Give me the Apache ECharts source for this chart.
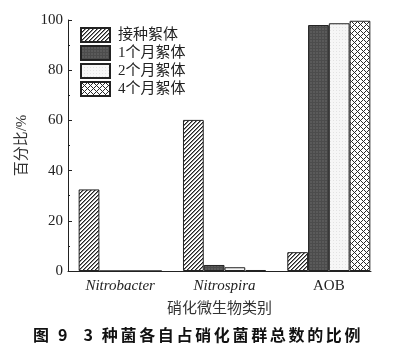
<!DOCTYPE html>
<html>
<head>
<meta charset="utf-8">
<script src="https://cdn.jsdelivr.net/npm/echarts@6/dist/echarts.min.js"></script>
<style>html,body{margin:0;padding:0;background:#fff}#c{width:407px;height:357px}</style>
</head>
<body>
<div id="c"></div>
<script>
const categories = ['Nitrobacter', 'Nitrospira', 'AOB'];
const italicCats = ['Nitrobacter', 'Nitrospira'];
const seriesNames = ['接种絮体', '1个月絮体', '2个月絮体', '4个月絮体'];
const inoculum = [32.5, 60.2, 7.5];
const month1 = [0, 2.4, 98.0];
const month2 = [0, 1.5, 98.7];
const month4 = [0, 0.4, 99.7];
const yTicks = [0, 20, 40, 60, 80, 100];
const xName = '硝化微生物类别';
const yName = '百分比/%';
const titleHead = '图 9';
const titleBody = '3 种菌各自占硝化菌群总数的比例';

function tile(size, bg, fn) {
  const c = document.createElement('canvas');
  c.width = size; c.height = size;
  const g = c.getContext('2d');
  g.fillStyle = bg; g.fillRect(0, 0, size, size);
  for (let x = 0; x < size; x++) for (let y = 0; y < size; y++) {
    const col = fn(x, y);
    if (col) { g.fillStyle = col; g.fillRect(x, y, 1, 1); }
  }
  return c;
}
const hatch = tile(4, '#ffffff', (x, y) => (x + y) % 4 === 0 ? '#222' : ((x + y) % 4 === 1 ? '#888' : null));
const cross = tile(6, '#ffffff', (x, y) => ((x + y) % 6 === 0 || (x - y + 6) % 6 === 0) ? '#2a2a2a' : null);
const dark = tile(3, '#5a5a5a', (x, y) => (x === 0 || y === 0) ? '#4c4c4c' : null);
const light = tile(3, '#f6f6f6', (x, y) => (x === 0 && y === 0) ? '#e2e2e2' : null);

const fills = [
  {image: hatch, repeat: 'repeat'},
  {image: dark, repeat: 'repeat'},
  {image: light, repeat: 'repeat'},
  {image: cross, repeat: 'repeat'}
];
const datas = [inoculum, month1, month2, month4];
const serif = "'Liberation Serif','Noto Sans CJK SC'";
const spaced = s => s.split('').join('\u2006');

const chart = echarts.init(document.getElementById('c'), null, {renderer: 'canvas'});
chart.setOption({
  animation: false,
  backgroundColor: '#fff',
  title: {
    text: spaced(titleHead) + '\u2003' + spaced(titleBody),
    left: 33, top: 327, padding: 0,
    textStyle: {fontSize: 16, fontWeight: 'bold', color: '#111', fontFamily: "'Noto Sans CJK SC'"}
  },
  legend: {
    orient: 'vertical', left: 80, top: 27, padding: 0,
    itemWidth: 29, itemHeight: 14, itemGap: 2, icon: 'rect',
    data: seriesNames,
    textStyle: {fontSize: 15, color: '#222', fontFamily: serif, lineHeight: 14, padding: [0, 0, 0, 3]}
  },
  grid: [
    {left: 68, width: 313, top: 20, bottom: 86},
    {left: 68, width: 303, top: 20, bottom: 86}
  ],
  xAxis: [
    {
      type: 'category', gridIndex: 0, data: categories,
      axisLine: {show: false}, axisTick: {show: false},
      axisLabel: {
        margin: 8,
        formatter: v => italicCats.includes(v) ? '{i|' + v + '}' : '{n|' + v + '}',
        rich: {
          i: {fontSize: 15, fontStyle: 'italic', fontFamily: serif, color: '#222'},
          n: {fontSize: 15, fontFamily: serif, color: '#222'}
        }
      }
    },
    {
      type: 'value', gridIndex: 1, min: 0, max: 1,
      axisLine: {show: true, lineStyle: {color: '#222', width: 1}},
      axisTick: {show: false}, axisLabel: {show: false}, splitLine: {show: false},
      name: xName, nameLocation: 'middle', nameGap: 31,
      nameTextStyle: {fontSize: 15, color: '#333', fontFamily: serif}
    }
  ],
  yAxis: [
    {
      type: 'value', gridIndex: 0, min: yTicks[0], max: yTicks[yTicks.length - 1], interval: 20,
      axisLine: {show: true, lineStyle: {color: '#222', width: 1}},
      axisTick: {show: true, inside: true, length: 4, lineStyle: {color: '#222'}},
      minorTick: {show: true, splitNumber: 2, length: 2, lineStyle: {color: '#222'}},
      splitLine: {show: false},
      axisLabel: {margin: 5, fontSize: 15, color: '#222', fontFamily: serif},
      name: yName, nameLocation: 'middle', nameGap: 37,
      nameTextStyle: {fontSize: 15, color: '#333', fontFamily: serif}
    },
    {type: 'value', gridIndex: 1, show: false, min: 0, max: 100}
  ],
  series: seriesNames.map((n, i) => ({
    name: n, type: 'bar', xAxisIndex: 0, yAxisIndex: 0,
    data: datas[i],
    barGap: '0%', barCategoryGap: '20.4%',
    itemStyle: {color: fills[i], borderColor: '#222', borderWidth: 1}
  }))
});
</script>
</body>
</html>
